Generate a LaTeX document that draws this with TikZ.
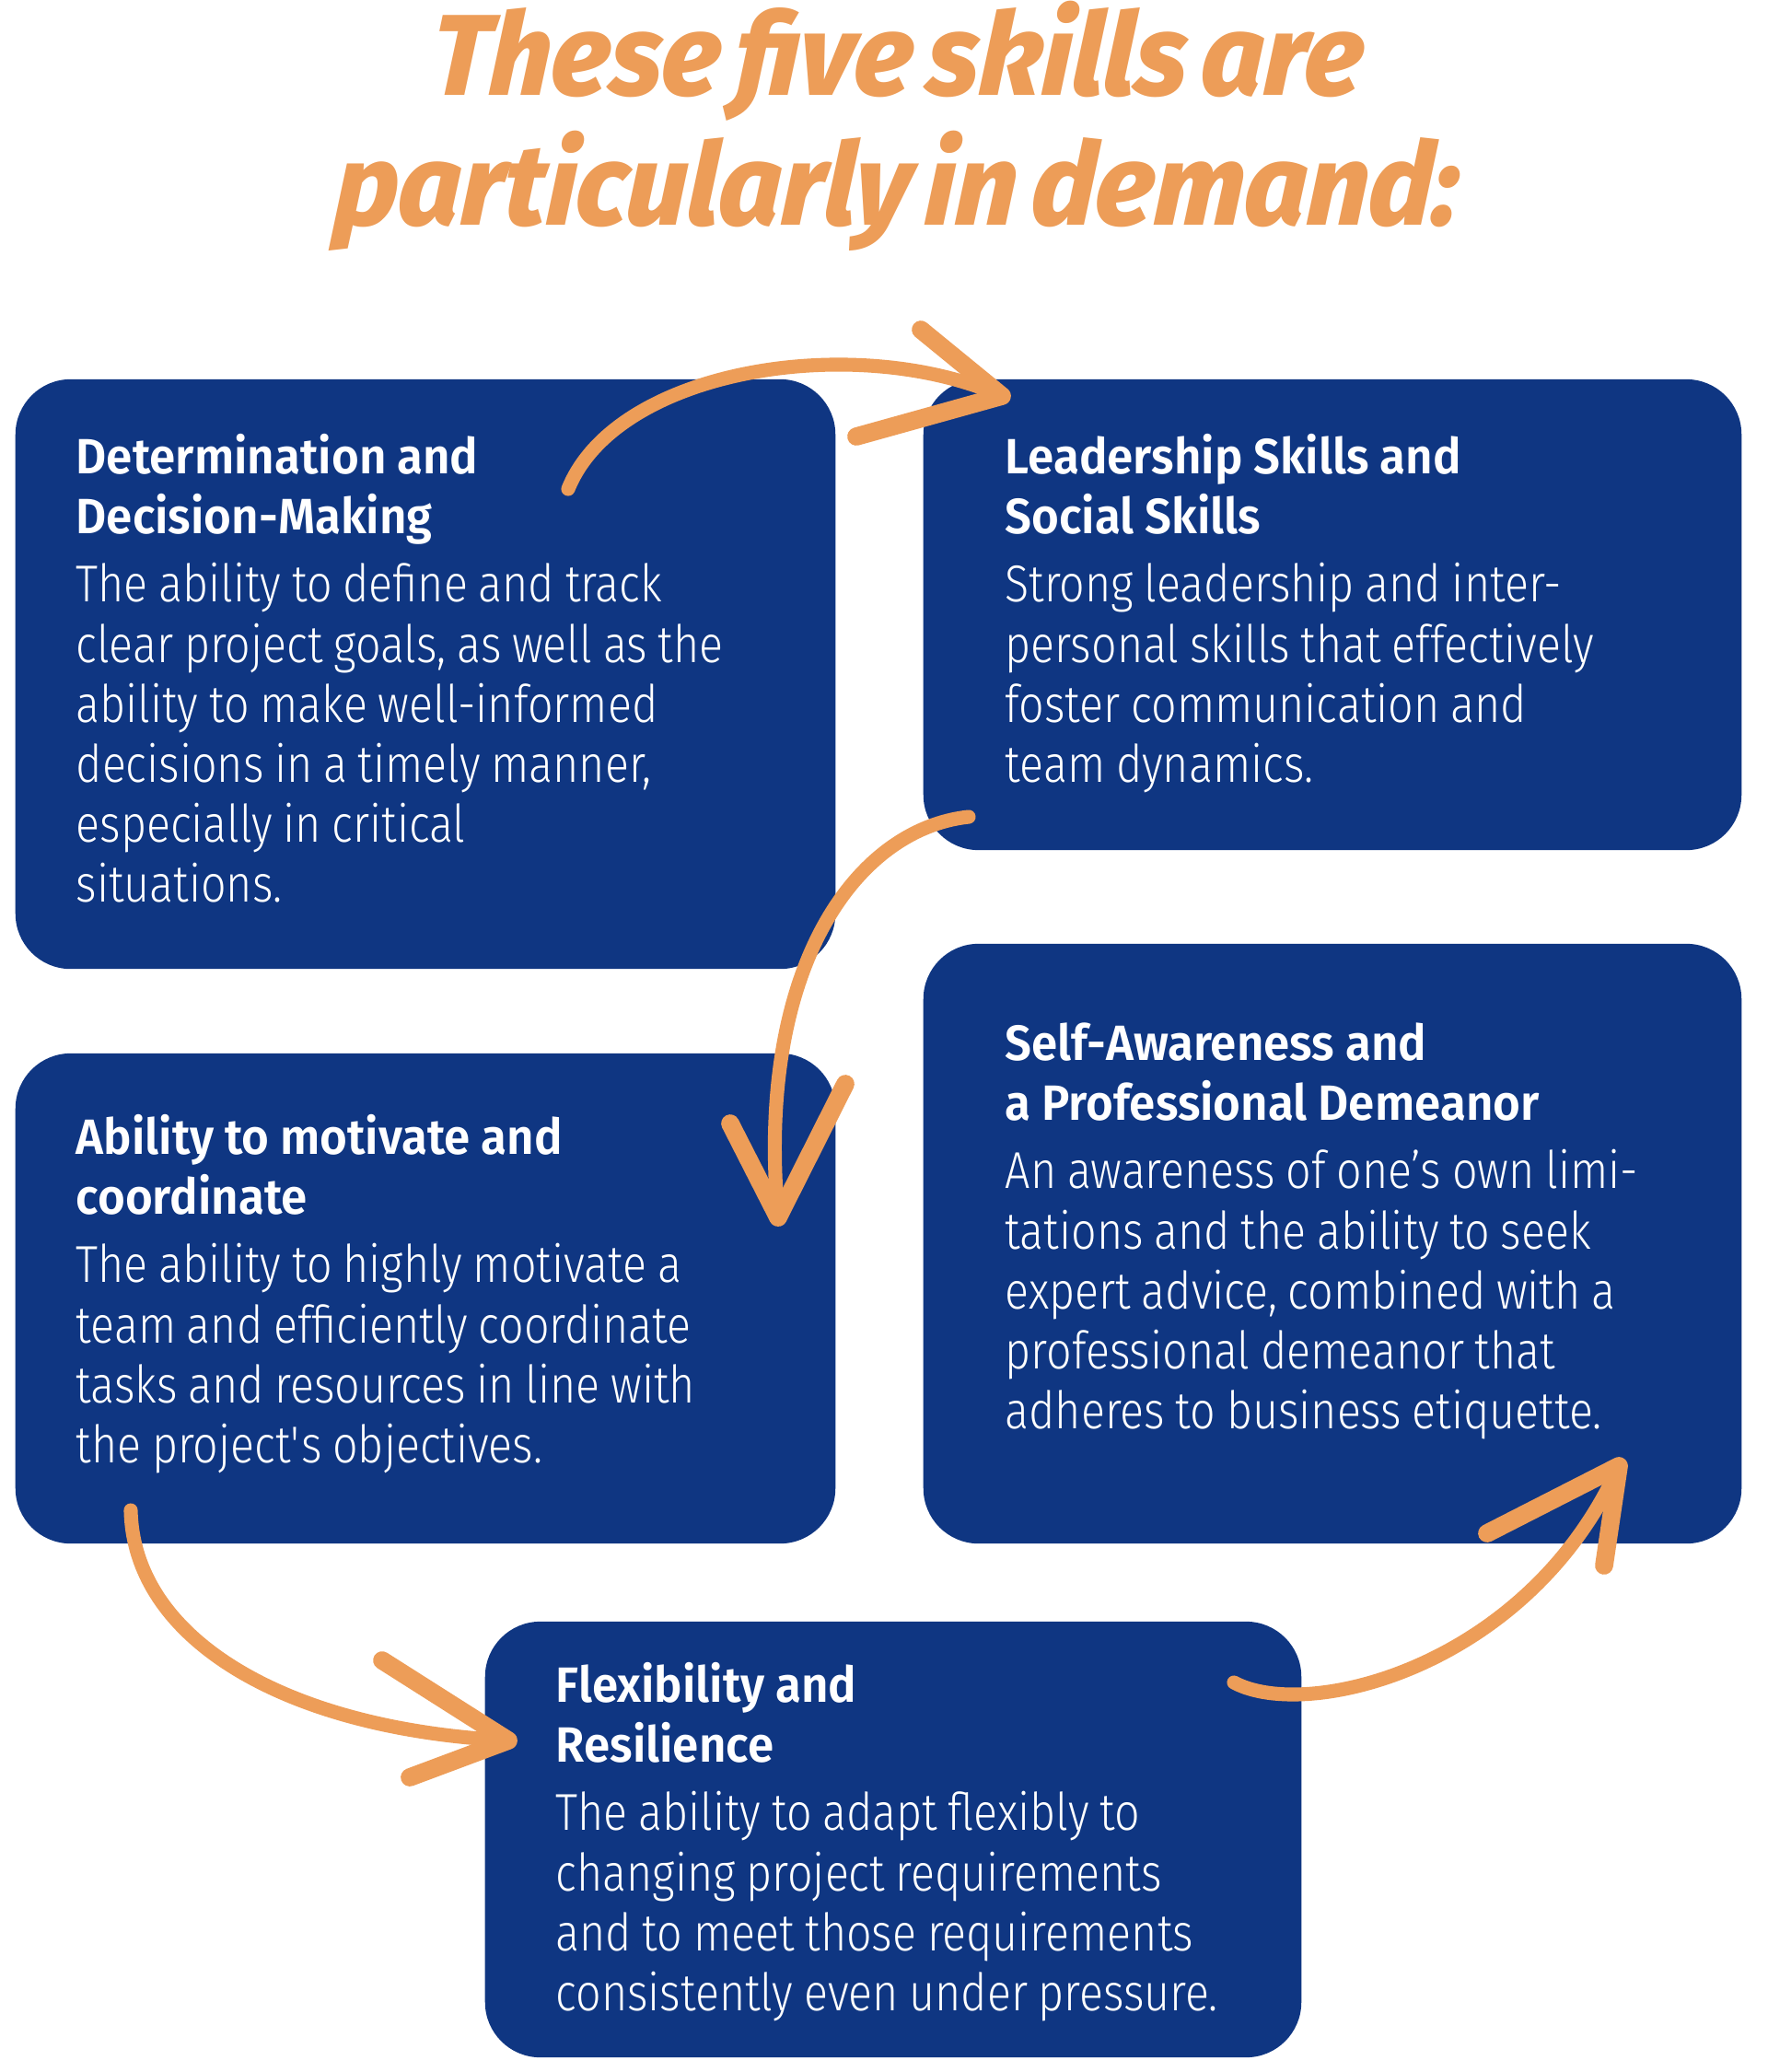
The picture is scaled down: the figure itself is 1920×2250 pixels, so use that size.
\documentclass[tikz,border=0pt]{standalone}
\usepackage{fontspec}
\usetikzlibrary{positioning}
\newfontfamily\bodyfont{Fira Sans}[UprightFont=* Light, FakeStretch=0.86]
\newfontfamily\headfont{Fira Sans}[UprightFont=* SemiBold, FakeStretch=0.95]
\newfontfamily\titlefont{Fira Sans}[UprightFont=* ExtraBold Italic, FakeStretch=0.95, FakeSlant=0.08]
\definecolor{skillblue}{RGB}{15,54,130}
\definecolor{skillorange}{RGB}{237,157,88}
\newcommand\skillhead[1]{{\headfont\fontsize{15.3}{18.5}\selectfont #1\par}\vspace{2.8pt}}
\newcommand\skillbody[1]{{\bodyfont\fontsize{16}{18.5}\selectfont #1\par}}

\begin{document}
\begin{tikzpicture}[x=0.01cm,y=-0.01cm,
      skillbox/.style={fill=skillblue,rounded corners=0.6cm,inner sep=0pt},
      skilltext/.style={anchor=base west,text width=12cm,align=left,inner sep=0pt,text=white},
      arrowline/.style={draw=skillorange,line width=4.3pt,line cap=round},
      barb/.style={draw=skillorange,line width=5.6pt,line cap=round,line join=round}]
  \useasboundingbox[fill=white] (0,0) rectangle (1920,2250);

  % title
  \node[anchor=base,text width=19cm,align=center,text=skillorange,inner sep=0pt,
        font=\titlefont\fontsize{35.5}{40.1}\selectfont] (title) at (972,103)
    {\spaceskip=4.5pt\relax These five skills are\\particularly in demand:};

  % boxes
  \node[skillbox,minimum width=8.9cm,minimum height=6.4cm] (det) at (462,732) {};
  \node[skillbox,minimum width=8.88cm,minimum height=5.11cm] (lead) at (1447,667.5) {};
  \node[skillbox,minimum width=8.9cm,minimum height=5.32cm] (moti) at (462,1410) {};
  \node[skillbox,minimum width=8.88cm,minimum height=6.51cm] (self) at (1447,1350.5) {};
  \node[skillbox,minimum width=8.86cm,minimum height=4.73cm] (flex) at (970,1997.5) {};

  % texts
  \node[skilltext] (dettext) at (82,514) {\skillhead{Determination and\\Decision-Making}%
    \skillbody{The ability to define and track\\clear project goals, as well as the\\ability to make well-informed\\decisions in a timely manner,\\especially in critical\\situations.}};
  \node[skilltext] (leadtext) at (1091,514) {\skillhead{Leadership Skills and\\Social Skills}%
    \skillbody{Strong leadership and inter-\\personal skills that effectively\\foster communication and\\team dynamics.}};
  \node[skilltext] (motitext) at (82,1253) {\skillhead{Ability to motivate and\\coordinate}%
    \skillbody{The ability to highly motivate a\\team and efficiently coordinate\\tasks and resources in line with\\the project\textquotesingle s objectives.}};
  \node[skilltext] (selftext) at (1091,1151) {\skillhead{Self-Awareness and\\a Professional Demeanor}%
    \skillbody{An awareness of one’s own limi-\\tations and the ability to seek\\expert advice, combined with a\\professional demeanor that\\adheres to business etiquette.}};
  \node[skilltext] (flextext) at (603,1848) {\skillhead{Flexibility and\\Resilience}%
    \skillbody{The ability to adapt flexibly to\\changing project requirements\\and to meet those requirements\\consistently even under pressure.}};

  % arrow ends
  \coordinate (s1) at (617,531);  \coordinate (t1) at (1088,430);
  \coordinate (u1) at (1000,358); \coordinate (l1) at (930,474);
  \coordinate (s2) at (1052,887); \coordinate (t2) at (845,1322);
  \coordinate (u2) at (918,1177); \coordinate (l2) at (793,1220);
  \coordinate (s3) at (142,1640); \coordinate (t3) at (552,1890);
  \coordinate (u3) at (415,1803); \coordinate (l3) at (445,1930);
  \coordinate (s4) at (1340,1827); \coordinate (t4) at (1758,1592);
  \coordinate (u4) at (1742,1700); \coordinate (l4) at (1615,1665);

  % arrows
  \draw[arrowline] (s1) .. controls (670,400) and (930,360) .. (t1);
  \draw[barb] (u1) -- (t1) -- (l1);
  \draw[arrowline] (s2) .. controls (930,900) and (820,1050) .. (t2);
  \draw[barb] (u2) -- (t2) -- (l2);
  \draw[arrowline] (s3) .. controls (145,1780) and (310,1878) .. (t3);
  \draw[barb] (u3) -- (t3) -- (l3);
  \draw[arrowline] (s4) .. controls (1420,1870) and (1660,1810) .. (t4);
  \draw[barb] (u4) -- (t4) -- (l4);
\end{tikzpicture}
\end{document}
